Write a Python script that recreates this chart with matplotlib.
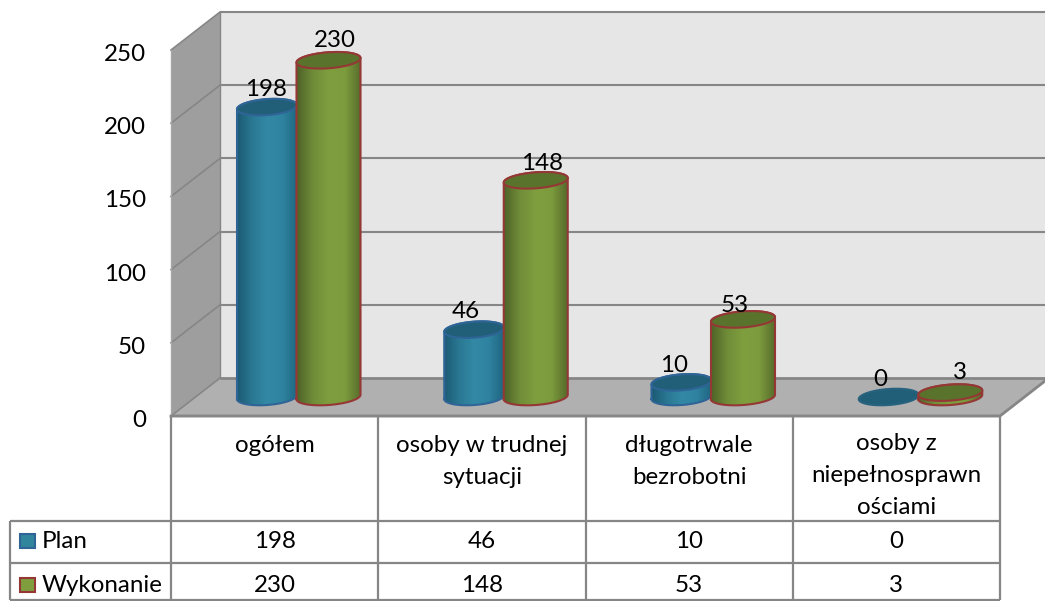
import numpy as np
import matplotlib
matplotlib.use("Agg")
import matplotlib.pyplot as plt
from matplotlib.patches import Polygon, Rectangle
from matplotlib.colors import LinearSegmentedColormap

categories = ["ogółem", "osoby w trudnej\nsytuacji", "długotrwale\nbezrobotni",
              "osoby z\nniepełnosprawn\nościami"]
series_names = ["Plan", "Wykonanie"]
plan = [198, 46, 10, 0]
wykonanie = [230, 148, 53, 3]
y_ticks = [0, 50, 100, 150, 200, 250]

plt.rcParams["font.family"] = ["Lato", "DejaVu Sans"]
W, H = 1045, 601
PX_PER_CAT = 207.25
PX_PER_UNIT = 1.464
LEFT_PX, ZERO_PX = 171, 416
DX = 1 / PX_PER_CAT      # one pixel in x data units
DY = 1 / PX_PER_UNIT     # one pixel in y data units

fig = plt.figure(figsize=(W / 100, H / 100), dpi=100)
ax = fig.add_axes([0, 0, 1, 1])
xlim = (-LEFT_PX * DX, (W - LEFT_PX) * DX)
ylim = ((ZERO_PX - H) * DY, ZERO_PX * DY)
ax.axis("off")

FS = 17.4
GRID = "#868686"
depth_x, depth_y = 49 * DX, 38 * DY
vmax = y_ticks[-1]
right = (W - LEFT_PX) * DX

# walls and floor
ax.add_patch(Polygon([(depth_x, depth_y), (right, depth_y), (right, depth_y + vmax), (depth_x, depth_y + vmax)],
                     fc="#e6e6e6", ec="none", zorder=1))
ax.add_patch(Polygon([(0, 0), (depth_x, depth_y), (depth_x, depth_y + vmax), (0, vmax)],
                     fc="#9e9e9e", ec="none", zorder=1))
ax.add_patch(Polygon([(0, 0), (depth_x, depth_y), (right, depth_y), (right, 35 * DY), (829 * DX, 0)],
                     fc="#b0b0b0", ec="none", zorder=1))
for v in y_ticks:
    ax.plot([depth_x, right], [v + depth_y] * 2, color=GRID, lw=1.5 if v else 2, zorder=2, solid_capstyle="butt")
    ax.plot([0, depth_x], [v, v + depth_y], color=GRID, lw=1.2, zorder=2)
    ax.text(-25 * DX, v - 4.5 * DY, str(v), ha="right", va="center", fontsize=FS, color="black", zorder=6)
ax.plot([0, 0], [0, vmax], color="#a6a6a6", lw=1, zorder=2)
ax.plot([depth_x, depth_x], [depth_y, depth_y + vmax], color=GRID, lw=1, zorder=2)
ax.plot([0, 829 * DX, right], [0, 0, 35 * DY], color=GRID, lw=2, zorder=2)

# cylinders
T = np.linspace(0, 2 * np.pi, 80)
SHEAR = 0.07


def ellipse_xy(cx, cy, a, b, t):
    return cx + a * DX * np.cos(t), cy + (b * np.sin(t) + SHEAR * a * np.cos(t)) * DY


def cylinder(cx, base, val, a, cmap, top_c, edge, z):
    b = 8
    top = base + val
    if val > 0:
        t_low = np.linspace(np.pi, 2 * np.pi, 50)
        xl, yl = ellipse_xy(cx, base, a, b, t_low)
        t_up = np.linspace(0, np.pi, 50)
        xu, yu = ellipse_xy(cx, top, a, b, t_up)
        xs = np.r_[xl, xu]
        ys = np.r_[yl, yu]
        clip = Polygon(np.c_[xs, ys], closed=True, transform=ax.transData)
        grad = np.linspace(0, 1, 128)[None, :]
        im = ax.imshow(grad, cmap=cmap, aspect="auto", zorder=z, interpolation="bilinear",
                       extent=(cx - a * DX, cx + a * DX, base - 10 * DY, top + 10 * DY))
        im.set_clip_path(clip)
        ax.plot(np.r_[xs, xs[0]], np.r_[ys, ys[0]], color=edge, lw=1.5, zorder=z + 0.2)
    xt, yt = ellipse_xy(cx, top, a, b, T)
    ax.add_patch(Polygon(np.c_[xt, yt], closed=True, fc=top_c, ec=edge, lw=1.5, zorder=z + 0.3))


cm_blue = LinearSegmentedColormap.from_list("b", ["#1c5a74", "#2a7893", "#3389a5", "#2f83a0", "#1f6580"])
cm_green = LinearSegmentedColormap.from_list("g", ["#4f6329", "#708d38", "#7f9f3f", "#7c9b3d", "#55692b"])
BLUE_EDGE, RED_EDGE = "#2f6496", "#953735"
blue_off, green_off = 96 * DX, 157.5 * DX
base_y = 19 * DY
for i in range(len(categories)):
    cylinder(i + blue_off, base_y, plan[i], 30, cm_blue, "#215f78", BLUE_EDGE if plan[i] else "#27627e", 3 + 2 * i)
    cylinder(i + green_off, base_y, wykonanie[i], 32, cm_green, "#5a732c", RED_EDGE, 4 + 2 * i)

# data labels (pixel nudges from the top of each cylinder)
plan_nudge = [(-1, 18), (-9, 18), (-7, 17), (-9, 18)]
wyk_nudge = [(6, 20), (6, 17), (-8, 14), (10, 20)]
for i in range(len(categories)):
    for off, vals, nudge in ((blue_off, plan, plan_nudge), (green_off, wykonanie, wyk_nudge)):
        nx, ny = nudge[i]
        ax.text(i + off + nx * DX, base_y + vals[i] + ny * DY, str(vals[i]), ha="center", va="center",
                fontsize=FS, color="black", zorder=20)

# data table
n = len(categories)
row1, row2, row3 = -105 * DY, -147 * DY, -184 * DY
legend_left = -161 * DX
TBL = dict(color=GRID, lw=1.6, zorder=15, solid_capstyle="butt")
for k in range(n + 1):
    ax.plot([k, k], [0, row3], **TBL)
ax.plot([legend_left] * 2, [row1, row3], **TBL)
ax.plot([0, n], [0, 0], **TBL)
for yy in (row1, row2, row3):
    ax.plot([legend_left, n], [yy, yy], **TBL)

line_gap = 32 * DY
for i, c in enumerate(categories):
    lines = c.split("\n")
    y0 = -29 * DY if len(lines) < 3 else -28 * DY
    for j, s in enumerate(lines):
        ax.text(i + 0.5, y0 - j * line_gap, s, ha="center", va="center", fontsize=FS, color="black", zorder=16)

rows = ((plan, -126 * DY, "#31859c", BLUE_EDGE), (wykonanie, -170 * DY, "#7f9f3f", RED_EDGE))
for name, (vals, yy, fc, ec) in zip(series_names, rows):
    for i, v in enumerate(vals):
        ax.text(i + 0.5, yy, str(v), ha="center", va="center", fontsize=FS, color="black", zorder=16)
    ax.add_patch(Rectangle((-151 * DX, yy - 6 * DY), 15 * DX, 14 * DY, fc=fc, ec=ec, lw=1.5, zorder=16))
    ax.text(-129 * DX, yy, name, ha="left", va="center", fontsize=FS, color="black", zorder=16)

ax.set_xlim(*xlim)
ax.set_ylim(*ylim)
fig.savefig("out.png", dpi=100, facecolor="white")
